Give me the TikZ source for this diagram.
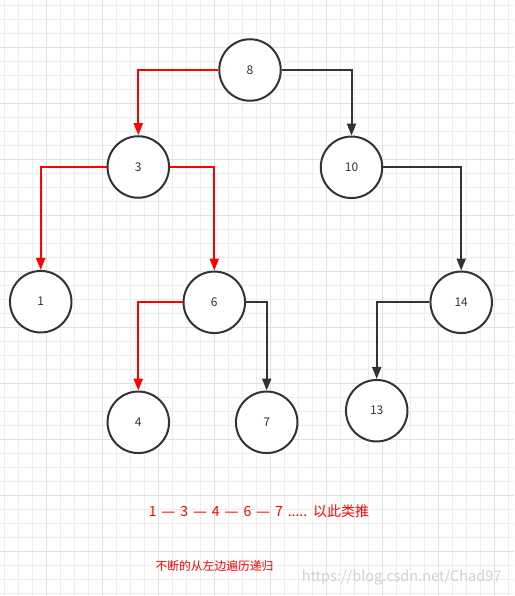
\documentclass[tikz,border=0pt]{standalone}
\usepackage{fontspec}
\setmainfont{Noto Sans CJK SC}
\newfontfamily\dashfont{DejaVu Sans}
\usetikzlibrary{arrows.meta}
\definecolor{dk}{HTML}{333333}
\definecolor{gminor}{HTML}{EDEDED}
\definecolor{gmajor}{HTML}{E0E0E0}
\newcommand{\emd}{{\dashfont —}}
\tikzset{
  tnode/.style={circle, draw=dk, line width=2pt, minimum size=61.5pt, inner sep=0pt, fill=white, text=dk, font=\fontsize{12}{14}\selectfont},
  redline/.style={draw=red, line width=2pt, -{Triangle[length=12pt,width=9pt]}},
  dkline/.style={draw=dk, line width=2pt, -{Triangle[length=12pt,width=9pt]}},
}
\begin{document}
\begin{tikzpicture}[x=1pt,y=-1pt]
\useasboundingbox (0,0) rectangle (514,596);
\fill[white] (0,0) rectangle (514,596);
% grid
\foreach \i in {0,...,36} {
  \draw[gminor, line width=1pt] ({4.3+14*\i},0) -- ({4.3+14*\i},596);
}
\foreach \i in {0,...,42} {
  \draw[gminor, line width=1pt] (0,{5.7+14*\i}) -- (514,{5.7+14*\i});
}
\foreach \i in {0,...,9} {
  \draw[gmajor, line width=1pt] ({46.3+56*\i},0) -- ({46.3+56*\i},596);
}
\foreach \i in {0,...,10} {
  \draw[gmajor, line width=1pt] (0,{47.7+56*\i}) -- (514,{47.7+56*\i});
}
% nodes
\node[tnode] (n8) at (250,70) {8};
\node[tnode] (n3) at (138.3,167) {3};
\node[tnode] (n10) at (351.5,167.3) {10};
\node[tnode] (n1) at (40.7,301.7) {1};
\node[tnode] (n6) at (214.3,302.3) {6};
\node[tnode] (n14) at (461.2,302.3) {14};
\node[tnode] (n4) at (138.3,422.3) {4};
\node[tnode] (n7) at (266.7,422.3) {7};
\node[tnode] (n13) at (376.7,410.7) {13};
% edges
\draw[redline] (n8.west) -| (n3.north);
\draw[dkline] (n8.east) -| (n10.north);
\draw[redline] (n3.west) -| (n1.north);
\draw[redline] (n3.east) -| (n6.north);
\draw[redline] (n6.west) -| (n4.north);
\draw[dkline] (n6.east) -| (n7.north);
\draw[dkline] (n10.east) -| (n14.north);
\draw[dkline] (n14.west) -| (n13.north);
% texts
\node[text=red, font=\fontsize{14}{16}\selectfont] (order) at (259,511) {\spaceskip=4.9pt\relax 1 \emd{} 3 \emd{} 4 \emd{} 6 \emd{} 7 ..... 以此类推};
\node[text=red, font=\fontsize{11.8}{13}\selectfont] (note) at (214.5,566.5) {不断的从左边遍历递归};
\node[text=black!18, font=\fontsize{14.5}{16}\selectfont, anchor=east] (wm) at (505,578) {https://blog.csdn.net/Chad97};
\end{tikzpicture}
\end{document}
